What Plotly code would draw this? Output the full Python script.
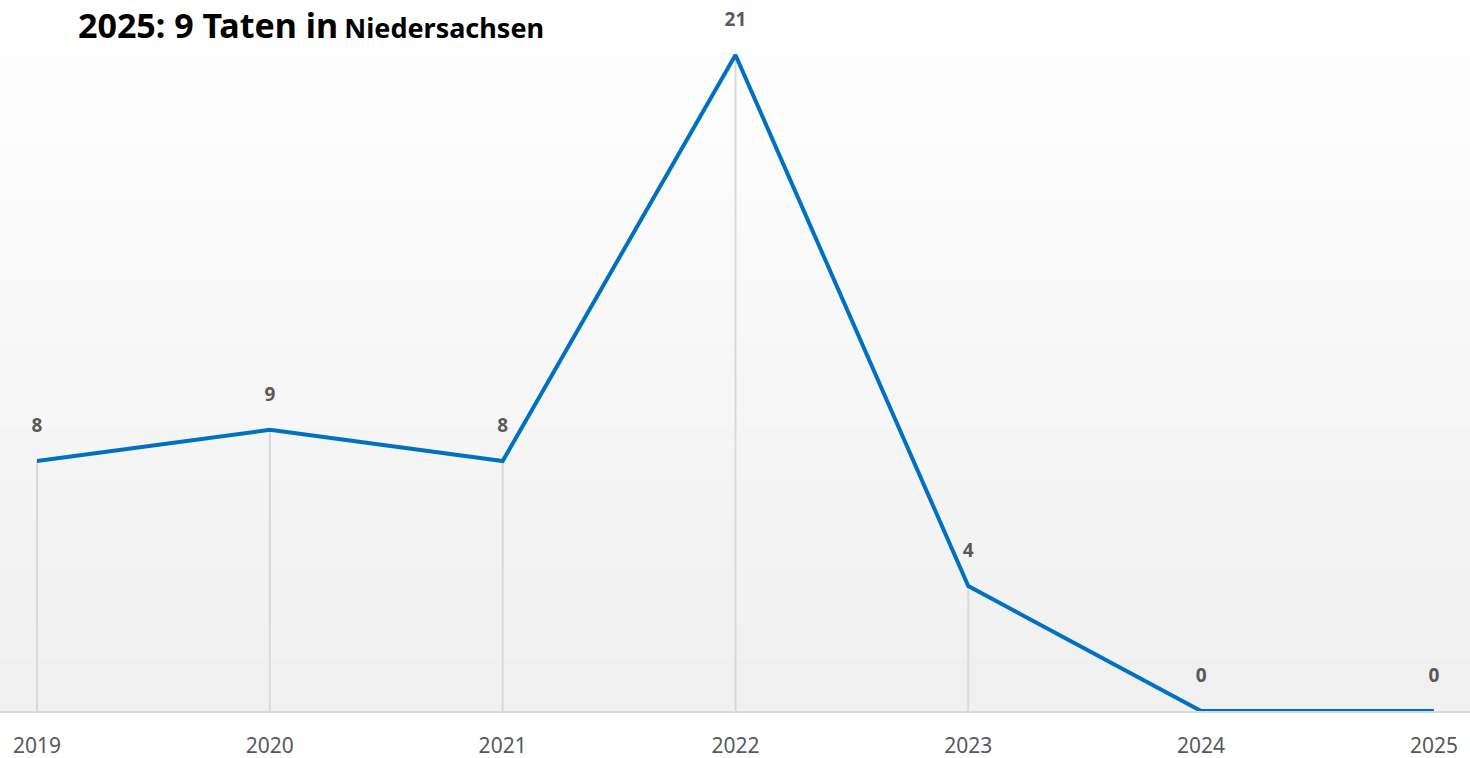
import plotly.graph_objects as go

# Daten
jahre = ["2019", "2020", "2021", "2022", "2023", "2024", "2025"]
taten = [8, 9, 8, 21, 4, 0, 0]

linienfarbe = "#0070c0"
textfarbe = "#595959"

fig = go.Figure()

# Linie mit Fallinien (wie in Excel) ueber Fehlerbalken nach unten bis 0
fig.add_trace(go.Scatter(
    x=jahre, y=taten,
    mode="lines+markers+text",
    line=dict(color=linienfarbe, width=4),
    marker=dict(size=37, color="rgba(0,0,0,0)"),
    text=[str(v) for v in taten],
    textposition="top center",
    textfont=dict(family="Noto Sans", size=19, color=textfarbe, weight="bold"),
    error_y=dict(type="data", symmetric=False, array=[0] * len(taten),
                 arrayminus=taten, color="#d9d9d9", thickness=2, width=0),
    cliponaxis=False,
    hoverinfo="x+y",
))

# Hintergrund mit Verlauf (weiss -> hellgrau) als Streifen
n = 40
for i in range(n):
    g = int(255 - (255 - 240) * (i + 0.5) / n)
    fig.add_shape(type="rect", xref="paper", yref="paper",
                  x0=0, x1=1, y0=1 - (i + 1) / n, y1=1 - i / n,
                  fillcolor=f"rgb({g},{g},{g})", line_width=0, layer="below")

fig.update_layout(
    width=1470, height=758,
    margin=dict(l=0, r=0, t=0, b=47),
    paper_bgcolor="white",
    plot_bgcolor="white",
    showlegend=False,
    xaxis=dict(
        type="category",
        range=[-0.159, 6.155],
        automargin=False,
        showgrid=False,
        showline=True, linecolor="#d9d9d9", linewidth=2,
        ticks="",
        ticklabelstandoff=15,
        tickfont=dict(family="Noto Sans", size=21, color=textfarbe),
        fixedrange=True,
    ),
    yaxis=dict(
        range=[0, 22.76],
        automargin=False,
        showgrid=False, zeroline=False,
        showticklabels=False,
        fixedrange=True,
    ),
)

# Titel
fig.add_annotation(
    xref="paper", yref="paper", x=76 / 1470, y=1.0,
    xanchor="left", yanchor="top", showarrow=False,
    text="<b><span style='font-size:34px'>2025: 9 Taten in</span>&nbsp; "
         "<span style='font-size:27px'>Niedersachsen</span></b>",
    font=dict(family="Noto Sans", color="black"),
)

# Seitenrand des Browsers entfernen, damit die Grafik bei (0,0) beginnt
fig.write_html("out.html", config={"displayModeBar": False},
               post_script="document.body.style.margin='0';")
